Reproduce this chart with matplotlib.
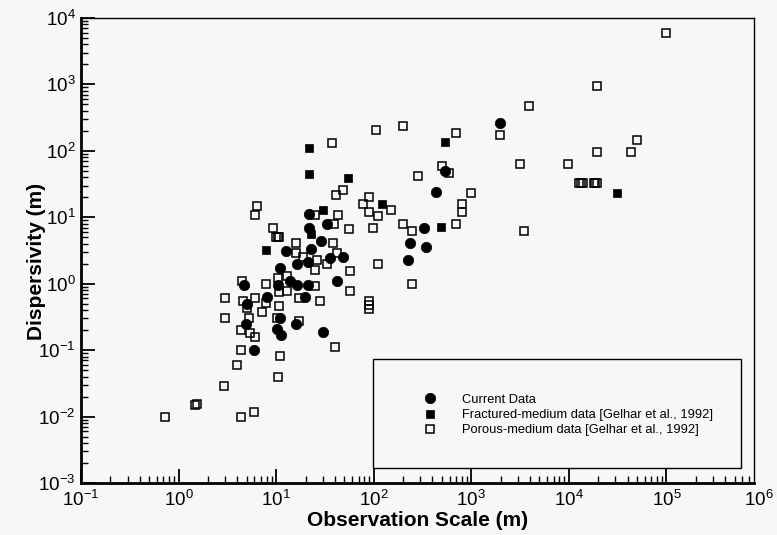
import numpy as np
import matplotlib
matplotlib.use("Agg")
import matplotlib.pyplot as plt
from matplotlib.ticker import LogLocator, NullFormatter
from matplotlib.patches import Rectangle

plt.rcParams["font.family"] = ["Liberation Sans", "DejaVu Sans"]
plt.rcParams["mathtext.fontset"] = "custom"
plt.rcParams["mathtext.rm"] = "Liberation Sans"
plt.rcParams["mathtext.default"] = "regular"
plt.rcParams["axes.unicode_minus"] = False

BG = "#f7f7f7"

# current data (filled circles)
cur_x = [1960, 537, 433, 327, 235, 343, 224, 21.7, 21.7, 33, 29, 23, 12.6, 16.3,
         21, 36, 48, 11, 14, 10.4, 16.3, 21, 42, 4.7, 8.0, 19.6, 5.0, 11, 4.9,
         16, 10.2, 11.2, 30, 5.9]
cur_y = [262, 50, 24, 6.9, 4.1, 3.6, 2.3, 11.2, 7.0, 8.0, 4.4, 3.3, 3.1, 2.0,
         2.1, 2.4, 2.5, 1.7, 1.1, 0.97, 0.95, 0.95, 1.1, 0.95, 0.63, 0.63, 0.5,
         0.31, 0.25, 0.25, 0.21, 0.17, 0.19, 0.1]

# fractured-medium data (filled squares)
frac_x = [21.7, 21.7, 54, 30, 22.8, 7.9, 121, 489, 537, 31000]
frac_y = [110, 45, 39, 13, 5.6, 3.2, 16, 7.1, 136, 23]

# porous-medium data (open squares)
por_x = [0.73, 1.47, 1.53, 3.0, 3.0, 4.4, 4.0, 2.9, 4.4, 5.9, 10.9, 10.4, 40,
         10.0, 10.4, 10.8, 16, 38, 16, 19, 26, 33, 25, 42, 57, 110,
         4.5, 7.9, 10.4, 12.8, 12.8, 10.6, 25, 17, 28, 57, 4.6, 6.1, 5.0, 7.9,
         10.7, 7.1, 10.2, 5.3, 4.4, 5.4, 6.1, 17, 89, 89, 89,
         37, 49, 41, 6.4, 6.1, 89, 78, 89, 98, 25, 43, 39, 56, 9.3,
         105, 200, 3900, 1960, 695, 3150, 500, 590, 284, 990, 795, 795, 150,
         110, 200, 245, 695, 3460, 245,
         98600, 19400, 49800, 19400, 43100, 9770,
         12800, 13300, 13800, 18000, 18700, 19400]
por_y = [0.01, 0.0148, 0.0152, 0.61, 0.30, 0.1, 0.059, 0.029, 0.01, 0.0116, 0.081, 0.039, 0.11,
         5.0, 5.0, 5.0, 4.1, 4.1, 2.9, 2.5, 2.3, 2.0, 1.6, 2.9, 1.55, 2.0,
         1.1, 1.0, 1.2, 1.3, 0.77, 0.74, 0.92, 0.61, 0.55, 0.77, 0.55, 0.6, 0.43, 0.51,
         0.46, 0.37, 0.30, 0.30, 0.2, 0.18, 0.16, 0.27, 0.55, 0.48, 0.42,
         131, 26, 21.6, 15, 11, 20, 16, 12, 7.0, 11, 11, 8.0, 6.6, 6.9,
         205, 237, 473, 173, 185, 63, 59, 47, 42, 23, 16, 12, 13,
         10.4, 7.9, 6.2, 7.9, 6.2, 1.0,
         5940, 946, 146, 96, 96, 63,
         33, 33, 33, 33, 33, 33]

x_decades = [1e-1, 1e0, 1e1, 1e2, 1e3, 1e4, 1e5]
y_decades = [1e-3, 1e-2, 1e-1, 1e0, 1e1, 1e2, 1e3, 1e4]

labels = ["Current Data",
          "Fractured-medium data [Gelhar et al., 1992]",
          "Porous-medium data [Gelhar et al., 1992]"]

fig = plt.figure(figsize=(7.77, 5.35), dpi=100)
fig.patch.set_facecolor(BG)
ax = fig.add_axes([81 / 777, 52 / 535, 673 / 777, 465 / 535])
ax.set_facecolor(BG)

h_por, = ax.plot(por_x, por_y, ls="none", marker="s", ms=5.7, mfc="none",
                 mec="black", mew=1.1, zorder=2)
h_frac, = ax.plot(frac_x, frac_y, ls="none", marker="s", ms=5.5, mfc="black",
                  mec="black", mew=0.5, zorder=3)
h_cur, = ax.plot(cur_x, cur_y, ls="none", marker="o", ms=7.5, mfc="black",
                 mec="black", mew=0.5, zorder=4)

ax.set_xscale("log")
ax.set_yscale("log")
ax.set_xlim(0.1, 10 ** (6 - 10 / 97.6))
ax.set_ylim(1e-3, 1e4)

ax.set_xticks(x_decades)
ax.set_yticks(y_decades)
ax.xaxis.set_minor_locator(LogLocator(base=10, subs=np.arange(2, 10), numticks=100))
ax.yaxis.set_minor_locator(LogLocator(base=10, subs=np.arange(2, 10), numticks=100))
ax.xaxis.set_minor_formatter(NullFormatter())
ax.yaxis.set_minor_formatter(NullFormatter())

ax.tick_params(which="major", direction="in", length=10, width=1.3,
               labelsize=13.5, top=False, right=False)
ax.tick_params(which="minor", direction="in", length=5, width=1,
               top=False, right=False)
ax.tick_params(axis="x", which="major", pad=5)
ax.tick_params(axis="y", which="major", pad=4)

# 10^6 label sits just past the frame edge
ax.annotate(r"$\mathdefault{10^{6}}$", xy=(1e6, 0), xycoords=("data", "axes fraction"),
            xytext=(-4, -5), textcoords="offset points", ha="center", va="top",
            fontsize=13.5, annotation_clip=False)

for side in ["left", "bottom"]:
    ax.spines[side].set_linewidth(2)
for side in ["top", "right"]:
    ax.spines[side].set_linewidth(1)

ax.set_xlabel("Observation Scale (m)", fontsize=15, fontweight="bold", labelpad=1)
ax.set_ylabel("Dispersivity (m)", fontsize=15, fontweight="bold")
ax.yaxis.set_label_coords(-0.052, 0.477)

box = Rectangle((0.434, 0.032), 0.547, 0.235, transform=ax.transAxes,
                facecolor=BG, edgecolor="black", lw=1, zorder=5)
ax.add_patch(box)

leg = ax.legend([h_cur, h_frac, h_por], labels, loc="upper left",
                bbox_to_anchor=(0.5097, 0.192), frameon=False, fontsize=9.3,
                handlelength=1.0, handletextpad=1.95, labelspacing=0.25,
                borderpad=0, borderaxespad=0)
leg.set_zorder(6)

fig.savefig("out.png", dpi=100, facecolor=BG)
